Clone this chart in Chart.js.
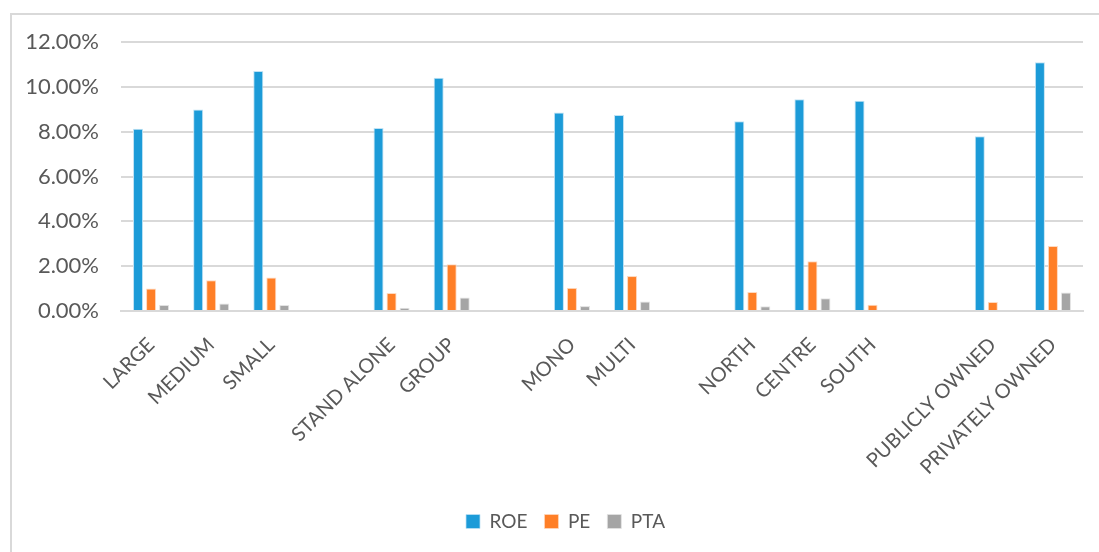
<!DOCTYPE html>
<html>
<head>
<meta charset="utf-8">
<script src="https://cdn.jsdelivr.net/npm/chart.js@4"></script>
<style>
  html, body { margin: 0; padding: 0; background: #fff; }
  #wrap { position: relative; width: 1099px; height: 552px; }
  #frame { position: absolute; left: 10px; top: 13px; width: 1100px; height: 560px;
           border-left: 2px solid #d9d9d9; border-top: 2px solid #d9d9d9; box-sizing: border-box; }
  canvas { position: absolute; left: 0; top: 0; }
</style>
</head>
<body>
<div id="wrap">
  <div id="frame"></div>
  <canvas id="chart" width="1099" height="552"></canvas>
</div>
<script>
// empty strings are the blank gaps between groups
const categories = ['LARGE', 'MEDIUM', 'SMALL', '', 'STAND ALONE', 'GROUP', '', 'MONO', 'MULTI', '',
  'NORTH', 'CENTRE', 'SOUTH', '', 'PUBLICLY OWNED', 'PRIVATELY OWNED'];

const roe = [8.13, 8.99, 10.71, null, 8.16, 10.40, null, 8.85, 8.74, null, 8.47, 9.45, 9.38, null, 7.80, 11.10];
const pe  = [1.00, 1.37, 1.49, null, 0.80, 2.08, null, 1.03, 1.56, null, 0.85, 2.22, 0.28, null, 0.40, 2.90];
const pta = [0.27, 0.33, 0.27, null, 0.15, 0.60, null, 0.22, 0.42, null, 0.21, 0.57, 0, null, 0.05, 0.82];

const yTicks = [0, 2, 4, 6, 8, 10, 12];

const fontFam = 'Lato, "Noto Sans", sans-serif';
const textCol = '#595959';

// nudge the legend a bit to the right, like the original
const legendShift = {
  id: 'legendShift',
  afterLayout(chart) {
    chart.legend.left += 24;
    chart.legend.right += 24;
  }
};

new Chart(document.getElementById('chart'), {
  type: 'bar',
  data: {
    labels: categories,
    datasets: [
      { label: 'ROE', data: roe, backgroundColor: '#1c9bd8', borderColor: '#bfe2f4', borderWidth: { left: 1, right: 1, top: 1, bottom: 0 } },
      { label: 'PE', data: pe, backgroundColor: '#ff7f27', borderColor: '#ffd9bf', borderWidth: { left: 1, right: 1, top: 1, bottom: 0 } },
      { label: 'PTA', data: pta, backgroundColor: '#a5a5a5', borderColor: '#e4e4e4', borderWidth: { left: 1, right: 1, top: 1, bottom: 0 } }
    ]
  },
  options: {
    responsive: false,
    animation: false,
    datasets: { bar: { categoryPercentage: 0.65, barPercentage: 0.77 } },
    layout: { padding: { top: 42, right: 16, bottom: 11, left: 0 } },
    plugins: {
      legend: {
        position: 'bottom',
        labels: {
          color: textCol,
          font: { family: fontFam, size: 19 },
          boxWidth: 14,
          boxHeight: 14,
          padding: 17
        }
      },
      tooltip: { enabled: false }
    },
    scales: {
      x: {
        grid: { display: false, drawTicks: false },
        border: { color: '#d9d9d9', width: 2 },
        ticks: {
          color: textCol,
          font: { family: fontFam, size: 20 },
          maxRotation: 45,
          minRotation: 45,
          autoSkip: false,
          padding: 22
        },
        afterFit: (scale) => { scale.height = 184; }
      },
      y: {
        min: 0,
        max: 12,
        afterBuildTicks: (scale) => { scale.ticks = yTicks.map(v => ({ value: v })); },
        grid: { color: '#d9d9d9', lineWidth: 2, drawTicks: false },
        border: { display: false },
        ticks: {
          color: textCol,
          font: { family: fontFam, size: 22 },
          padding: 22,
          callback: (v) => v.toFixed(2) + '%'
        },
        afterFit: (scale) => { scale.width = 121; }
      }
    }
  },
  plugins: [legendShift]
});
</script>
</body>
</html>
